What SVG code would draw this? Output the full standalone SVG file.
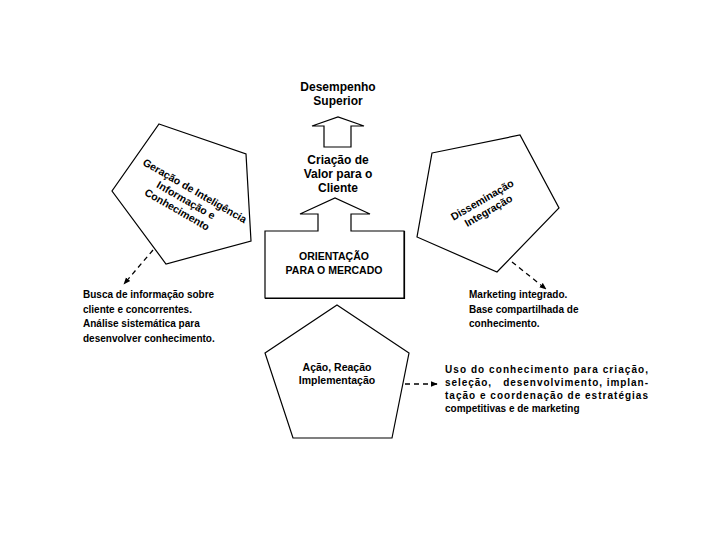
<svg xmlns="http://www.w3.org/2000/svg" width="720" height="540" viewBox="0 0 720 540">
<defs>
<style>
.shape{fill:#fff;stroke:#000;stroke-width:1.2;stroke-linejoin:miter}
.t{font-family:"Liberation Sans",Arial,sans-serif;font-weight:bold;fill:#000}
.c12{font-size:12px;text-anchor:middle}
.c10{font-size:10.5px;text-anchor:middle}
.p{font-size:10.5px;text-anchor:middle}
.b{font-size:10px}
.dash{fill:none;stroke:#000;stroke-width:1.3;stroke-dasharray:5 4}
</style>
<marker id="ah" viewBox="0 0 10 10" refX="9" refY="5" markerWidth="7" markerHeight="7" orient="auto" markerUnits="userSpaceOnUse">
<path d="M0,1 L10,5 L0,9 Z" fill="#000"/>
</marker>
</defs>
<rect width="720" height="540" fill="#fff"/>

<g id="desempenho">
<text class="t c12" x="338" y="91">Desempenho</text>
<text class="t c12" x="338" y="105">Superior</text>
</g>

<g id="seta-superior">
<polygon class="shape" points="324,147 324,126 312,126 338,117 364,126 351,126 351,147"/>
</g>

<g id="criacao-valor">
<text class="t c12" x="338" y="164">Criação de</text>
<text class="t c12" x="338" y="178">Valor para o</text>
<text class="t c12" x="338" y="192">Cliente</text>
</g>

<g id="orientacao">
<polyline points="404,231 404,298 265,298" fill="none" stroke="#000" stroke-width="2.2"/>
<polygon class="shape" points="265,231 318,231 318,214 300,214 335,198 370,214 351,214 351,231 404,231 404,298 265,298"/>
<text class="t c10" x="334" y="260">ORIENTAÇÃO</text>
<text class="t c10" x="334" y="274">PARA O MERCADO</text>
</g>

<g id="geracao">
<polygon class="shape" points="159,124 246,154 251,241 166,264 112,191"/>
<g transform="translate(193,194) rotate(30)">
<text class="t p" x="0" y="0">Geração de Inteligência</text>
<text class="t p" x="-3" y="12.5">Informação e</text>
<text class="t p" x="-6" y="25">Conhecimento</text>
</g>
</g>

<g id="disseminacao">
<polygon class="shape" points="432,153 520,135 559,208 497,272 417,237"/>
<g transform="translate(484,203) rotate(-30)">
<text class="t p" x="0" y="0">Disseminação</text>
<text class="t p" x="0" y="12.5">Integração</text>
</g>
</g>

<g id="acao">
<polygon class="shape" points="337,305 409,353 392,438 293,438 265,353"/>
<text class="t c10" x="337" y="371">Ação, Reação</text>
<text class="t c10" x="337" y="384">Implementação</text>
</g>

<g id="conectores">
<line class="dash" x1="153" y1="250" x2="124" y2="284" marker-end="url(#ah)"/>
<line class="dash" x1="512" y1="262" x2="546" y2="289" marker-end="url(#ah)"/>
<line class="dash" x1="405" y1="384" x2="437" y2="384" marker-end="url(#ah)"/>
</g>

<g id="texto-busca">
<text class="t b" x="83" y="298">Busca de informação sobre</text>
<text class="t b" x="83" y="312.5">cliente e concorrentes.</text>
<text class="t b" x="83" y="327">Análise sistemática para</text>
<text class="t b" x="83" y="341.5">desenvolver conhecimento.</text>
</g>

<g id="texto-marketing">
<text class="t b" x="469" y="298">Marketing integrado.</text>
<text class="t b" x="469" y="313">Base compartilhada de</text>
<text class="t b" x="469" y="327">conhecimento.</text>
</g>

<g id="texto-uso">
<text class="t b" x="445" y="373" textLength="203" lengthAdjust="spacing">Uso do conhecimento para criação,</text>
<text class="t b" x="445" y="386" textLength="203" lengthAdjust="spacing" xml:space="preserve">seleção,   desenvolvimento, implan-</text>
<text class="t b" x="445" y="399" textLength="203" lengthAdjust="spacing">tação e coordenação de estratégias</text>
<text class="t b" x="445" y="412">competitivas e de marketing</text>
</g>
</svg>
